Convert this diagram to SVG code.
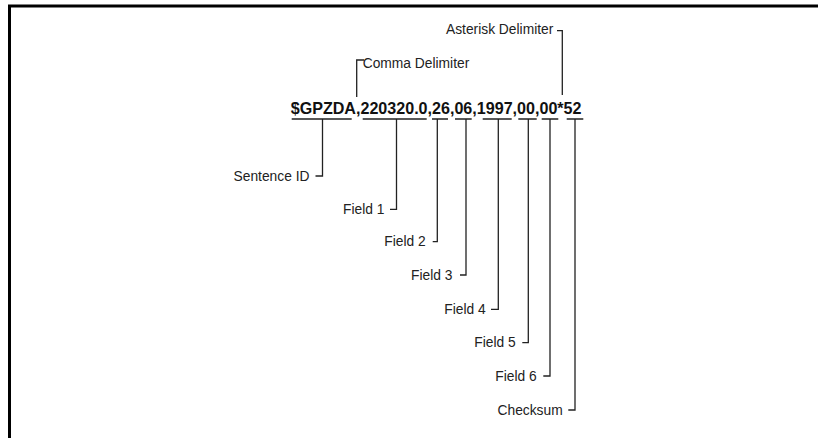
<svg xmlns="http://www.w3.org/2000/svg" width="818" height="438" viewBox="0 0 818 438">
<style>
.ln{stroke:#222;stroke-width:1.3;fill:none}
.lbl{font-family:"Liberation Sans",Arial,sans-serif;font-size:13.8px;fill:#222;text-anchor:end}
.main{font-family:"Liberation Sans",Arial,sans-serif;font-size:16.1px;font-weight:bold;fill:#111}
</style>
<rect width="818" height="438" fill="#fff"/>
<path d="M9.5 438 V6 H818" stroke="#000" stroke-width="3" fill="none"/>
<g id="sentence">
<text class="main" x="290.7" y="114">$GPZDA,220320.0,26,06,1997,00,00*52</text>
</g>
<g id="comma-delimiter">
<text class="lbl" x="362.7" y="68.3" style="text-anchor:start">Comma Delimiter</text>
</g>
<g id="asterisk-delimiter">
<text class="lbl" x="553.3" y="34">Asterisk Delimiter</text>
</g>
<g id="sentence-id"><text class="lbl" x="309.5" y="180.5">Sentence ID</text></g>
<g id="field1"><text class="lbl" x="384.5" y="213.8">Field 1</text></g>
<g id="field2"><text class="lbl" x="425.7" y="246.2">Field 2</text></g>
<g id="field3"><text class="lbl" x="452.5" y="279.5">Field 3</text></g>
<g id="field4"><text class="lbl" x="485.7" y="313.5">Field 4</text></g>
<g id="field5"><text class="lbl" x="515.7" y="347">Field 5</text></g>
<g id="field6"><text class="lbl" x="536.7" y="380.5">Field 6</text></g>
<g id="checksum"><text class="lbl" x="562.7" y="414.5">Checksum</text></g>
<g id="connectors" class="ln">
<path d="M364 60 H356.7 V97"/>
<path d="M557 30.7 H562.3 V95"/>
<path d="M291.7 119 H351.7 M322.5 119 V176 H315.5"/>
<path d="M362.7 119 H426.7 M396.5 119 V209.3 H390"/>
<path d="M432 119 H448 M437.3 119 V241.7 H432.7"/>
<path d="M455 119 H471.7 M466 119 V275 H460"/>
<path d="M482.7 119 H511.7 M498.3 119 V309.3 H491"/>
<path d="M518.3 119 H536.7 M528.3 119 V342.7 H522.3"/>
<path d="M541.7 119 H558.3 M550 119 V376 H543.3"/>
<path d="M566.7 119 H583.3 M575 119 V410 H568.3"/>
</g>
</svg>
